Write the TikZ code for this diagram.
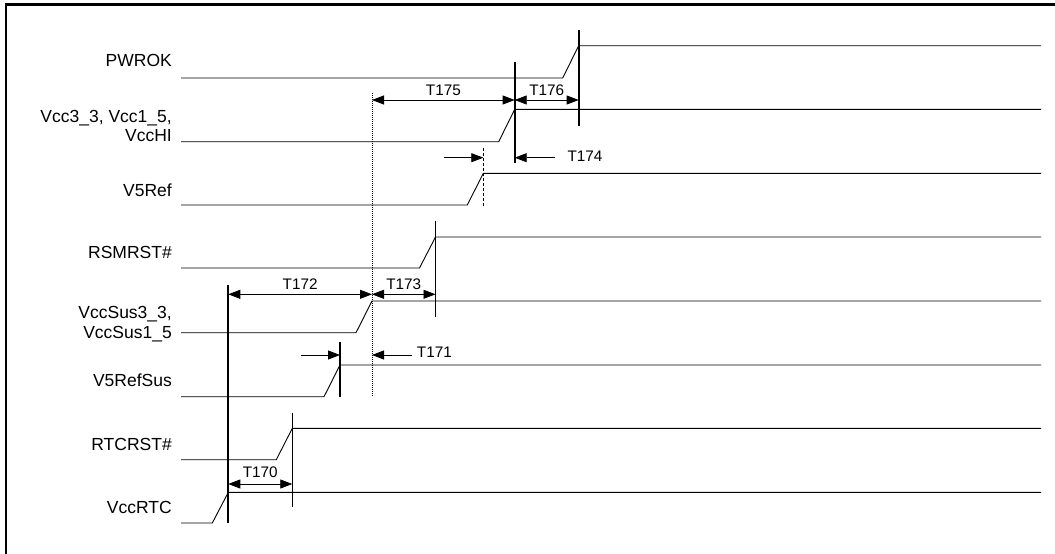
\documentclass[tikz,border=0pt]{standalone}
\usepackage{fontspec}
\setmainfont{Liberation Sans}
\usetikzlibrary{arrows.meta,calc}

\begin{document}
\begin{tikzpicture}[
  x=1pt, y=-1pt,
  sig/.style={line width=0.9pt},
  edge/.style={line width=2pt},
  thinedge/.style={line width=1.4pt},
  dottedmark/.style={line width=0.9pt, dash pattern=on 1pt off 1pt},
  dashedmark/.style={line width=0.9pt, dash pattern=on 3pt off 2pt},
  signame/.style={font=\fontsize{17.5}{19.5}\selectfont, anchor=base east, inner sep=0pt, align=right},
  tlab/.style={font=\fontsize{15.3}{18}\selectfont, anchor=base, inner sep=0pt, yshift=4.7pt},
  slab/.style={font=\fontsize{15.3}{18}\selectfont, anchor=base west, inner sep=0pt},
  dimarrow/.style={{Triangle[length=12pt,width=9pt]}-{Triangle[length=12pt,width=9pt]}, line width=0.8pt},
  leadarrow/.style={-{Triangle[length=12pt,width=9pt]}, line width=0.8pt},
]
\useasboundingbox (0,0) rectangle (1055,554);

% ------------------------------------------------------------ frame
\draw[line width=2.5pt] (6,554) -- (6,4.7) -- (1055,4.7);

% ------------------------------------------------------------ signal names
\node[signame] (npwrok) at (172,66.7) {PWROK};
\node[signame] (nvcc) at (172,141.7) {Vcc3\_3, Vcc1\_5,\\VccHI};
\node[signame] (nv5ref) at (172,196.7) {V5Ref};
\node[signame] (nrsmrst) at (172,258.3) {RSMRST\#};
\node[signame] (nsus) at (172,338.3) {VccSus3\_3,\\VccSus1\_5};
\node[signame] (nv5sus) at (172,386.7) {V5RefSus};
\node[signame] (nrtcrst) at (172,450) {RTCRST\#};
\node[signame] (nvccrtc) at (172,513.3) {VccRTC};

% ------------------------------------------------------------ waveforms
\foreach \n/\lo/\hi/\xa in {pwrok/78/45.7/578.7, vcc/141.7/109.3/514.7,
    v5ref/205/173.3/483.3, rsmrst/268/237/435.5, sus/332.7/301/372,
    v5sus/396.7/365/340, rtcrst/459.7/428.3/292.3, vccrtc/523/492.3/228.3} {
  \coordinate (\n) at (\xa,\hi);
  \draw[sig] (181,\lo) -- (\xa-16,\lo) -- (\n) -- (1041,\hi);
}

% ------------------------------------------------------------ edge markers
\draw[edge] (pwrok |- 0,30) -- (pwrok |- 0,126);
\draw[edge] (vcc |- 0,61.5) -- (vcc |- 0,163.3);
\draw[dashedmark] (v5ref |- 0,148.3) -- (v5ref |- 0,205.7);
\draw[dottedmark] (sus |- 0,93) -- (sus |- 0,396.7);
\draw[thinedge] (rsmrst |- 0,220.7) -- (rsmrst |- 0,316.7);
\draw[thinedge] (v5sus |- 0,341.7) -- (v5sus |- 0,396.7);
\draw[edge] (vccrtc |- 0,285) -- (vccrtc |- 0,523.3);
\draw[thinedge] (rtcrst |- 0,412.7) -- (rtcrst |- 0,507.3);

% ------------------------------------------------------------ timings
\draw[dimarrow] (sus |- 0,100) -- node[tlab] (t175) {T175} (vcc |- 0,100);
\draw[dimarrow] (vcc |- 0,100) -- node[tlab] (t176) {T176} (pwrok |- 0,100);

\coordinate (from-v5ref) at (444.3,157.7);
\draw[leadarrow] (from-v5ref) -- (v5ref |- from-v5ref);
\node[slab] (t174) at (567.3,161.7) {T174};
\coordinate (from-t174) at (555,157.7);
\draw[leadarrow] (from-t174) -- (vcc |- from-t174);

\draw[dimarrow] (vccrtc |- 0,294.3) -- node[tlab] (t172) {T172} (sus |- 0,294.3);
\draw[dimarrow] (sus |- 0,294.3) -- node[tlab] (t173) {T173} (rsmrst |- 0,294.3);

\coordinate (from-v5sus) at (301,355);
\draw[leadarrow] (from-v5sus) -- (v5sus |- from-v5sus);
\node[slab] (t171) at (416.7,357.3) {T171};
\coordinate (from-t171) at (412.3,355);
\draw[leadarrow] (from-t171) -- (sus |- from-t171);

\draw[dimarrow] (vccrtc |- 0,484) -- node[tlab, yshift=2pt] (t170) {T170} (rtcrst |- 0,484);

\end{tikzpicture}
\end{document}
